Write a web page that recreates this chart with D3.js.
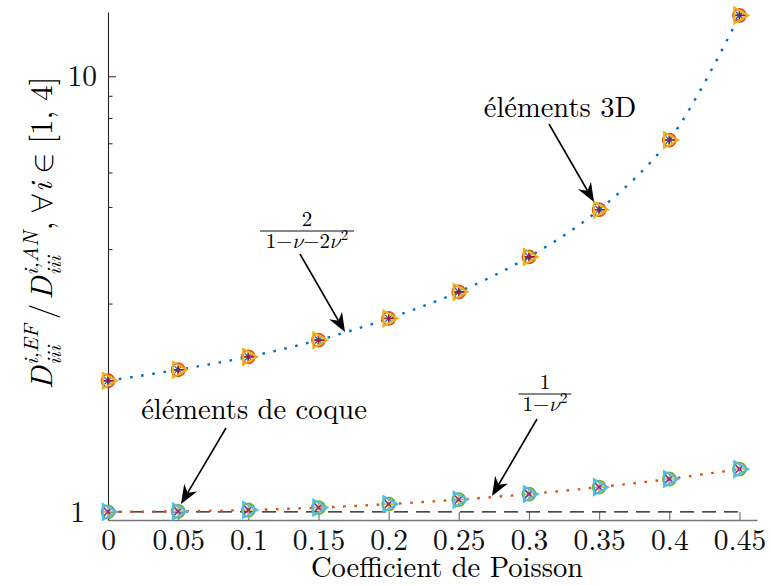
<!DOCTYPE html>
<html><head><meta charset="utf-8">
<script src="https://cdn.jsdelivr.net/npm/d3@7"></script>
<style>
html,body{margin:0;padding:0;background:#fff;}
</style></head>
<body>
<svg id="chart" width="771" height="585"></svg>
<script>
// ---- data ----
const nu = [0, 0.05, 0.1, 0.15, 0.2, 0.25, 0.3, 0.35, 0.4, 0.45];
const xTicks = [0, 0.05, 0.1, 0.15, 0.2, 0.25, 0.3, 0.35, 0.4, 0.45];
const xTickLabels = ["0", "0.05", "0.1", "0.15", "0.2", "0.25", "0.3", "0.35", "0.4", "0.45"];
const yTicks = [1, 10];
const yTickLabels = ["1", "10"];
const yMinorTicks = [2, 3, 4, 5, 6, 7, 8, 9];
// analytic curves
const analytic3D = [2.00, 2.12, 2.27, 2.48, 2.78, 3.20, 3.85, 4.94, 7.14, 13.8];
const analyticShell = [1.000, 1.003, 1.010, 1.023, 1.042, 1.067, 1.099, 1.140, 1.190, 1.254];
// finite-element results
const fe3D = [2.00, 2.12, 2.27, 2.48, 2.78, 3.20, 3.85, 4.94, 7.14, 13.8];
const feShell = [1.000, 1.003, 1.010, 1.023, 1.042, 1.067, 1.099, 1.140, 1.190, 1.254];
const reference = [1, 1];
const referenceX = [0, 0.45];

const FONT = '"Latin Modern Roman", "CMU Serif", "Liberation Serif", serif';
const MATH = '"Latin Modern Math", "STIX Two Math", "STIX Math", "DejaVu Serif", serif';
const svg = d3.select("#chart").style("font-family", FONT);
const X0 = 108, X1 = 757, Y0 = 520, Y1 = 12;
const x = d3.scaleLinear().domain([0, 0.4625]).range([X0, X1]);
const y = d3.scaleLog().domain([0.958, 14.05]).range([Y0, Y1]);

const C = {blue:"#0072BD", orange:"#D95319", yellow:"#EDB120", purple:"#7E2F8E", green:"#77AC30", cyan:"#4DBEEE", red:"#A2142F"};

// axes
const xAxis = d3.axisBottom(x).tickValues(xTicks).tickFormat((d,i)=>xTickLabels[i]).tickSizeInner(-8).tickSizeOuter(0).tickPadding(9);
const gx = svg.append("g").attr("transform",`translate(0,${Y0})`).call(xAxis).attr("font-family",null).attr("font-size",null);
gx.select(".domain").attr("stroke","#777").attr("stroke-width",1.6);
gx.selectAll(".tick line").attr("stroke","#777").attr("stroke-width",1.2);
gx.selectAll(".tick text").style("font-family",FONT).attr("font-size",29.5).attr("fill","#111");

const yAxis = d3.axisLeft(y).tickValues(yTicks).tickFormat((d,i)=>yTickLabels[i]).tickSizeInner(-8).tickSizeOuter(0).tickPadding(11);
const gy = svg.append("g").attr("transform",`translate(${X0},0)`).call(yAxis).attr("font-family",null).attr("font-size",null);
gy.select(".domain").attr("stroke","#222").attr("stroke-width",1.1);
gy.selectAll(".tick line").attr("stroke","#222");
gy.selectAll(".tick text").style("font-family",FONT).attr("font-size",29.5).attr("fill","#111")
  .attr("x",(d)=> d===1 ? -23 : -11);
svg.append("g").selectAll("line").data(yMinorTicks).join("line")
  .attr("x1",X0).attr("x2",X0+4.5).attr("y1",d=>y(d)).attr("y2",d=>y(d))
  .attr("stroke","#222").attr("stroke-width",1);

// reference dashed line
svg.append("path").datum(referenceX.map((v,i)=>[v,reference[i]]))
  .attr("d", d3.line().x(d=>x(d[0])).y(d=>y(d[1])))
  .attr("fill","none").attr("stroke","#111").attr("stroke-width",1.3).attr("stroke-dasharray","14,8");

// analytic dotted curves
const curveLine = d3.line().x((d,i)=>x(nu[i])).y(d=>y(d)).curve(d3.curveCatmullRom.alpha(0.5));
svg.append("path").datum(analytic3D).attr("d",curveLine).attr("fill","none")
  .attr("stroke",C.blue).attr("stroke-width",2.4).attr("stroke-dasharray","2.6,8.6").attr("stroke-linecap","butt");
svg.append("path").datum(analyticShell).attr("d",curveLine).attr("fill","none")
  .attr("stroke",C.orange).attr("stroke-width",2.4).attr("stroke-dasharray","2.6,8.6").attr("stroke-linecap","butt");

// markers
function drawMarker(g, type, cx, cy, color){
  const s = 6.5;
  if(type==="circle"){
    g.append("circle").attr("cx",cx).attr("cy",cy).attr("r",s).attr("fill","none").attr("stroke",color).attr("stroke-width",1.8);
  } else if(type==="tri"){
    const p = [[cx+s*1.35,cy],[cx-s*0.8,cy-s*1.2],[cx-s*0.8,cy+s*1.2]];
    g.append("path").attr("d","M"+p.map(q=>q.join(",")).join("L")+"Z").attr("fill","none").attr("stroke",color).attr("stroke-width",2.1);
  } else if(type==="plus"){
    const k=s*0.95;
    g.append("path").attr("d",`M${cx-k},${cy}H${cx+k}M${cx},${cy-k}V${cy+k}`).attr("stroke",color).attr("stroke-width",1.6);
  } else if(type==="x"){
    const k=s*0.6;
    g.append("path").attr("d",`M${cx-k},${cy-k}L${cx+k},${cy+k}M${cx-k},${cy+k}L${cx+k},${cy-k}`).attr("stroke",color).attr("stroke-width",1.6);
  } else if(type==="star"){
    const r=s*0.8, k=r*0.7;
    g.append("path").attr("d",`M${cx-r},${cy}H${cx+r}M${cx},${cy-r}V${cy+r}M${cx-k},${cy-k}L${cx+k},${cy+k}M${cx-k},${cy+k}L${cx+k},${cy-k}`).attr("stroke",color).attr("stroke-width",1.3);
  }
}
const gm = svg.append("g");
const set3D = [["star",C.blue],["plus",C.red],["circle",C.orange],["tri",C.yellow]];
const setShell = [["plus",C.yellow],["circle",C.green],["x",C.purple],["tri",C.cyan]];
set3D.forEach(([t,c])=>fe3D.forEach((v,i)=>drawMarker(gm,t,x(nu[i]),y(v),c)));
setShell.forEach(([t,c])=>feShell.forEach((v,i)=>drawMarker(gm,t,x(nu[i]),y(v),c)));

// arrows
function arrow(x1,y1,x2,y2){
  const ang = Math.atan2(y2-y1,x2-x1);
  const L = 19, W = 7.5, back = 6;
  const ux=Math.cos(ang), uy=Math.sin(ang), px=-uy, py=ux;
  const bx = x2-ux*L, by=y2-uy*L;
  const mx = x2-ux*(L-back), my=y2-uy*(L-back);
  svg.append("line").attr("x1",x1).attr("y1",y1).attr("x2",mx).attr("y2",my).attr("stroke","#000").attr("stroke-width",1.6);
  svg.append("path").attr("d",`M${x2},${y2}L${bx+px*W},${by+py*W}L${mx},${my}L${bx-px*W},${by-py*W}Z`).attr("fill","#000");
}
arrow(549,124,594,202);
arrow(300,254,345,332);
arrow(226,428,181,504);
arrow(537,419,492,496);

// annotation texts
svg.append("text").attr("x",560).attr("y",117).attr("text-anchor","middle").attr("font-size",28.5).text("éléments 3D");
svg.append("text").attr("x",254).attr("y",419).attr("text-anchor","middle").attr("font-size",28.5).text("éléments de coque");

function fraction(cx, barY, num, denParts, barW){
  svg.append("text").attr("x",cx).attr("y",barY-5).attr("text-anchor","middle").attr("font-size",21).text(num);
  svg.append("line").attr("x1",cx-barW/2).attr("x2",cx+barW/2).attr("y1",barY).attr("y2",barY).attr("stroke","#111").attr("stroke-width",1.2);
  const t = svg.append("text").attr("x",cx).attr("y",barY+17).attr("text-anchor","middle").attr("font-size",21);
  denParts.forEach(p=>{
    const ts = t.append("tspan").text(p.t);
    if(p.i) ts.attr("font-style","italic").style("font-family",MATH);
    if(p.sup) ts.attr("font-size",15).attr("dy",-8);
  });
}
fraction(307, 231, "2", [{t:"1−"},{t:"ν",i:1},{t:"−2"},{t:"ν",i:1},{t:"2",sup:1}], 94);
fraction(545, 394, "1", [{t:"1−"},{t:"ν",i:1},{t:"2",sup:1}], 53);

// y-axis label (rotated)
const gl = svg.append("g").attr("transform","translate(52,233) rotate(-90)");
let cur = 0;
const parts = [];
function piece(txt, size, opts={}){
  const t = gl.append("text").attr("x",cur).attr("y",opts.y||0).attr("font-size",size).text(txt);
  if(opts.i) t.attr("font-style","italic");
  if(opts.m) t.style("font-family",MATH).attr("font-weight","normal");
  const w = t.node().getComputedTextLength();
  parts.push(t);
  return {t,w};
}
function adv(w){cur+=w;}
let a = piece("D",31,{i:1}); adv(a.w+1);
let s1 = piece("i,EF",21,{i:1,y:-14}); let s2 = piece("iii",21,{i:1,y:9}); adv(Math.max(s1.w,s2.w)+5);
a = piece("/",31,{i:0}); adv(a.w+4);
a = piece("D",31,{i:1}); adv(a.w+1);
s1 = piece("i,AN",21,{i:1,y:-14}); s2 = piece("iii",21,{i:1,y:9}); adv(Math.max(s1.w,s2.w)+1);
a = piece(",",31); adv(a.w+8);
a = piece("∀",31,{m:1}); adv(a.w+1);
a = piece("i",31,{i:1}); adv(a.w+9);
a = piece("∈",31,{m:1}); adv(a.w+9);
a = piece("[1, 4]",31); adv(a.w);
parts.forEach(p=>p.attr("x", +p.attr("x") - cur/2));

// x-axis title
svg.append("text").attr("x",447).attr("y",577).attr("text-anchor","middle").attr("font-size",28.5).text("Coefficient de Poisson");
</script>
</body></html>
